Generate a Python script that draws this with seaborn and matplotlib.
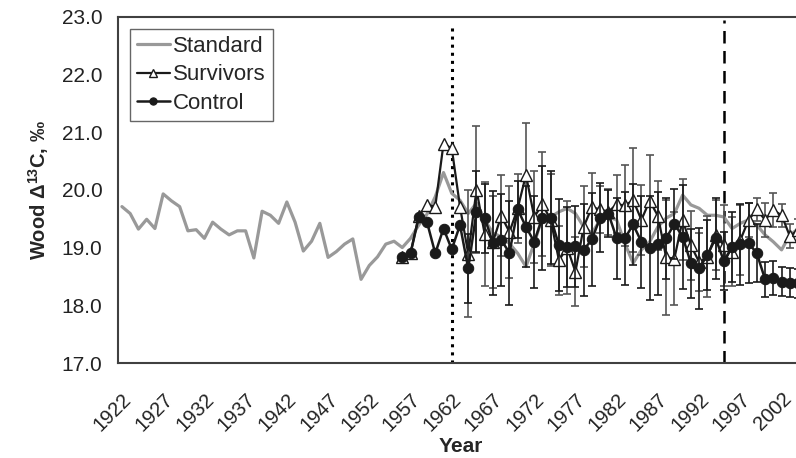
import numpy as np
import pandas as pd
import matplotlib
matplotlib.use("Agg")
import matplotlib.pyplot as plt
import seaborn as sns

# Standard chronology, 1922-2004
std_years = list(range(1922, 2005))
std_values = [19.71, 19.59, 19.32, 19.49, 19.33, 19.93, 19.81, 19.71, 19.29, 19.31,
              19.16, 19.44, 19.32, 19.22, 19.29, 19.29, 18.82, 19.63, 19.56, 19.42,
              19.79, 19.44, 18.94, 19.11, 19.42, 18.83, 18.93, 19.06, 19.15, 18.45,
              18.69, 18.84, 19.06, 19.11, 19.00, 19.16, 19.39, 19.58, 19.88, 20.30,
              19.94, 19.82, 19.59, 19.77, 19.48, 19.25, 19.19, 19.07, 18.90, 18.67,
              19.07, 19.53, 19.53, 19.62, 19.68, 19.59, 19.36, 19.25, 19.48, 19.53,
              19.48, 19.07, 18.73, 18.96, 19.10, 19.36, 19.51, 19.59, 19.91, 19.74,
              19.68, 19.56, 19.56, 19.53, 19.33, 19.42, 19.48, 19.39, 19.22, 19.10,
              18.96, 19.22, 19.32]

# Survivors and control trees, 1956-2004
tree_years = list(range(1956, 2005))
surv_values = [18.83, 18.90, 19.55, 19.74, 19.71, 20.80, 20.72, 19.71, 18.89, 20.00,
               19.23, 19.10, 19.55, 19.27, 19.68, 20.26, 19.53, 19.75, 19.48, 18.78,
               19.00, 18.58, 19.36, 19.70, 19.66, 19.62, 19.75, 19.73, 19.82, 19.48,
               19.81, 19.55, 18.83, 18.81, 19.48, 19.04, 18.75, 18.84, 19.22, 19.04,
               18.93, 19.13, 19.48, 19.66, 19.48, 19.65, 19.56, 19.20, 19.30]
surv_err = [0, 0, 0, 0, 0, 0, 0, 0, 1.1, 1.1,
            0.9, 0.8, 0.7, 0.8, 0.6, 0.9, 0.8, 0.9, 0.8, 0.6,
            0.8, 0.6, 0.7, 0.6, 0.4, 0.4, 0.5, 0.7, 0.9, 0.6,
            0.8, 0.6, 1.0, 0.8, 0.7, 0.6, 0.5, 0.7, 0.6, 0.7,
            0.6, 0.6, 0.3, 0.2, 0.3, 0.3, 0.2, 0.2, 0.2]
ctrl_values = [18.83, 18.90, 19.53, 19.44, 18.90, 19.33, 18.97, 19.39, 18.64, 19.62,
               19.51, 19.08, 19.13, 18.91, 19.66, 19.36, 19.10, 19.52, 19.52, 19.04,
               19.01, 19.02, 18.96, 19.14, 19.52, 19.59, 19.16, 19.16, 19.40, 19.10,
               19.00, 19.07, 19.16, 19.41, 19.19, 18.73, 18.64, 18.87, 19.16, 18.77,
               19.01, 19.06, 19.08, 18.90, 18.45, 18.47, 18.41, 18.39, 18.38]
ctrl_err = [0, 0, 0, 0, 0, 0, 0, 0, 0.6, 0.7,
            0.6, 0.9, 0.8, 0.9, 0.5, 0.7, 0.8, 0.9, 0.8, 0.8,
            0.7, 0.7, 0.8, 0.8, 0.6, 0.4, 0.7, 0.8, 0.7, 0.8,
            0.9, 0.9, 0.7, 0.6, 0.9, 0.6, 0.7, 0.6, 0.7, 0.5,
            0.6, 0.7, 0.7, 0.5, 0.3, 0.3, 0.25, 0.25, 0.25]

sns.set_theme(style="white")
plt.rcParams['font.family'] = ['Liberation Sans', 'DejaVu Sans']
plt.rcParams['mathtext.default'] = 'regular'

std_df = pd.DataFrame({'year': std_years, 'value': std_values})
tree_df = pd.DataFrame({'year': tree_years, 'surv': surv_values, 'surv_err': surv_err,
                        'ctrl': ctrl_values, 'ctrl_err': ctrl_err})

fig = plt.figure(figsize=(7.96, 4.58), dpi=100)
ax = fig.add_axes([0.148, 0.2074, 0.852, 0.7561])

# Standard chronology
sns.lineplot(data=std_df, x='year', y='value', ax=ax, color='#999999',
             linewidth=2.3, label='Standard', zorder=2)

# Survivors with error bars
ebs = tree_df[tree_df['surv_err'] > 0]
ax.errorbar(ebs['year'], ebs['surv'], yerr=ebs['surv_err'], fmt='none',
            ecolor='#555555', elinewidth=1.2, capsize=3, capthick=1.2, zorder=3)
sns.lineplot(data=tree_df, x='year', y='surv', ax=ax, color='#1a1a1a',
             linewidth=1.6, marker='^', markersize=8.5, markerfacecolor='white',
             markeredgecolor='#1a1a1a', markeredgewidth=1.0, label='Survivors', zorder=4)

# Control with error bars
ebc = tree_df[tree_df['ctrl_err'] > 0]
ax.errorbar(ebc['year'], ebc['ctrl'], yerr=ebc['ctrl_err'], fmt='none',
            ecolor='#1a1a1a', elinewidth=1.2, capsize=3, capthick=1.2, zorder=5)
sns.lineplot(data=tree_df, x='year', y='ctrl', ax=ax, color='#1a1a1a',
             linewidth=1.8, marker='o', markersize=7.5, markerfacecolor='#1a1a1a',
             markeredgecolor='#1a1a1a', label='Control', zorder=6)

# reference lines
ax.axvline(1962, ymin=0, ymax=0.975, color='black', linestyle=':', linewidth=2.2, zorder=1)
ax.axvline(1995, ymin=0, ymax=0.99, color='black', linestyle=(0, (5, 3)), linewidth=1.8, zorder=1)

ax.set_xlim(1921.5, 2003.75)
ax.set_ylim(17, 23)
ax.set_yticks(np.arange(17, 23.5, 1.0))
ax.set_yticklabels([f"{v:.1f}" for v in np.arange(17, 23.5, 1.0)], fontsize=15, color='#222222')
xt = list(range(1922, 2003, 5))
ax.set_xticks(xt)
ax.set_xticklabels([str(y) for y in xt], rotation=45, ha='right', rotation_mode='anchor',
                   fontsize=14.5, color='#222222')
ax.tick_params(axis='y', length=0, pad=11)
ax.tick_params(axis='x', length=0, pad=19)

ax.set_xlabel('Year', fontsize=15, fontweight='bold')
ax.xaxis.set_label_coords(0.506, -0.215)
ax.set_ylabel('Wood Δ$^{13}$C, ‰', fontsize=14.5, fontweight='bold', labelpad=8)

for side in ['left', 'bottom', 'top']:
    ax.spines[side].set_color('#404040')
    ax.spines[side].set_linewidth(1.5)
ax.spines['right'].set_visible(False)

leg = ax.legend(loc='upper left', fontsize=16, frameon=True, fancybox=False,
                handlelength=1.5, handletextpad=0.15, borderpad=0.3, labelspacing=0.35,
                borderaxespad=0.55, edgecolor='#404040', markerscale=0.7)
leg.get_frame().set_linewidth(1.0)

fig.savefig('out.png', dpi=100, facecolor='white')
